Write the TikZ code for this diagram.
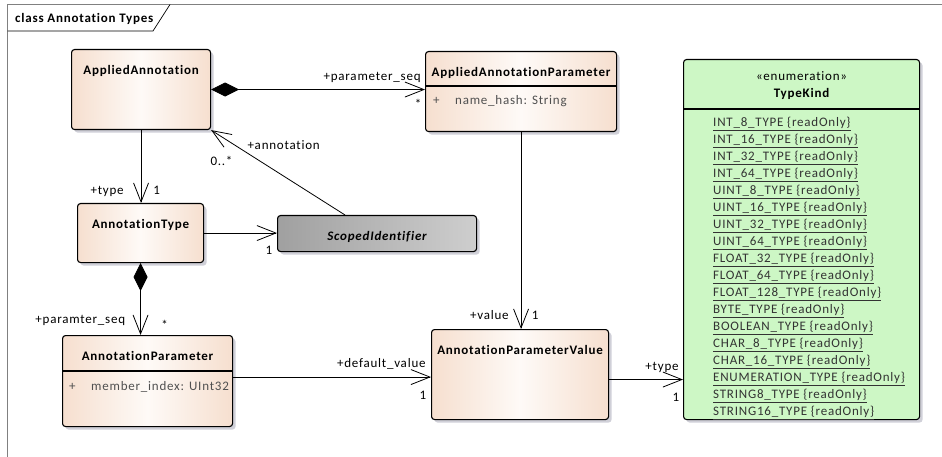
\documentclass[tikz,border=0pt]{standalone}
\usepackage{fontspec}
\setmainfont{Carlito}[LetterSpace=6, Ligatures=NoCommon]
\usetikzlibrary{arrows.meta,shadows,calc}

\definecolor{peach}{RGB}{246,223,207}
\definecolor{peachlight}{RGB}{254,250,247}
\definecolor{enumgreen}{RGB}{205,247,197}
\definecolor{absdark}{RGB}{160,160,160}
\definecolor{abslight}{RGB}{206,206,206}
\definecolor{shadowgray}{RGB}{208,208,216}
\definecolor{framegray}{RGB}{128,128,128}
\definecolor{attrgray}{RGB}{80,80,80}

\newcommand\umlfont{\fontsize{13}{15}\selectfont}

\tikzset{
  umlbox/.style={draw, line width=1.1pt, rounded corners=3pt, anchor=north west, inner sep=0pt,
    drop shadow={shadow xshift=3pt, shadow yshift=-3pt, fill=shadowgray, opacity=1}},
  classbox/.style={umlbox, left color=peach, right color=peach, middle color=peachlight},
  abstractbox/.style={umlbox, left color=absdark, right color=abslight},
  enumbox/.style={umlbox, fill=enumgreen},
  classname/.style={anchor=base, font=\umlfont\bfseries},
  attrib/.style={anchor=base west, text=attrgray},
  enumlit/.style={anchor=base west, text=black!80},
  assoc/.style={line width=0.8pt, -{Straight Barb[length=19pt,width=15pt]}},
  compos/.style={line width=0.8pt, {Diamond[length=28pt,width=14pt]}-{Straight Barb[length=19pt,width=15pt]}},
}

\begin{document}
\begin{tikzpicture}[x=1pt, y=-1pt, font=\umlfont, inner sep=0pt]
\useasboundingbox (0,0) rectangle (942,457);

% frame and its tag
\draw[framegray, line width=1.5pt] (7.5,457) -- (7.5,4.5) -- (942,4.5);
\draw[line width=0.7pt] (7.5,31) -- (153,31) -- (170,4.5);
\node[anchor=base west, font=\umlfont\bfseries] (frametitle) at (15,22.5) {class Annotation Types};

% classes
\node[classbox, minimum width=139pt, minimum height=80pt] (applied) at (71,49) {};
\node[classname] (appliedname) at ([yshift=-25.5pt]applied.north) {AppliedAnnotation};

\node[classbox, minimum width=191pt, minimum height=80pt] (appliedpar) at (425,51) {};
\node[classname] (appliedparname) at ([yshift=-25.5pt]appliedpar.north) {AppliedAnnotationParameter};
\draw[line width=1.1pt] ([yshift=-35pt]appliedpar.north west) -- ([yshift=-35pt]appliedpar.north east);
\node[attrib] (appliedparvis) at ([xshift=8pt, yshift=-54pt]appliedpar.north west) {+};
\node[attrib] (appliedparattr) at ([xshift=30pt, yshift=-54pt]appliedpar.north west) {name\_hash: String};

\node[classbox, minimum width=126pt, minimum height=59pt] (anntype) at (77,203) {};
\node[classname] (anntypename) at ([yshift=-25.5pt]anntype.north) {AnnotationType};

\node[abstractbox, minimum width=199pt, minimum height=36pt] (scoped) at (277,215) {};
\node[classname, font=\umlfont\bfseries\itshape] (scopedname) at ([yshift=-25.5pt]scoped.north) {ScopedIdentifier};

\node[classbox, minimum width=170pt, minimum height=91pt] (annpar) at (62,335) {};
\node[classname] (annparname) at ([yshift=-25.5pt]annpar.north) {AnnotationParameter};
\draw[line width=1.1pt] ([yshift=-36pt]annpar.north west) -- ([yshift=-36pt]annpar.north east);
\node[attrib] (annparvis) at ([xshift=7pt, yshift=-55.5pt]annpar.north west) {+};
\node[attrib] (annparattr) at ([xshift=29pt, yshift=-55.5pt]annpar.north west) {member\_index: UInt32};

\node[classbox, minimum width=177pt, minimum height=90pt] (annval) at (431,329) {};
\node[classname] (annvalname) at ([yshift=-25.5pt]annval.north) {AnnotationParameterValue};

% enumeration
\node[enumbox, minimum width=236pt, minimum height=360pt] (typekind) at (683,59) {};
\node[anchor=base] (typekindstereo) at ([yshift=-21.5pt]typekind.north) {«enumeration»};
\node[classname] (typekindname) at ([yshift=-38.5pt]typekind.north) {TypeKind};
\draw[line width=1.1pt] ([yshift=-50pt]typekind.north west) -- ([yshift=-50pt]typekind.north east);
\foreach \kind [count=\i from 0] in {INT\_8\_TYPE, INT\_16\_TYPE, INT\_32\_TYPE, INT\_64\_TYPE,
    UINT\_8\_TYPE, UINT\_16\_TYPE, UINT\_32\_TYPE, UINT\_64\_TYPE, FLOAT\_32\_TYPE,
    FLOAT\_64\_TYPE, FLOAT\_128\_TYPE, BYTE\_TYPE, BOOLEAN\_TYPE, CHAR\_8\_TYPE,
    CHAR\_16\_TYPE, ENUMERATION\_TYPE, STRING8\_TYPE, STRING16\_TYPE}
  \node[enumlit] (lit\i) at ([xshift=30pt, yshift={-67.5pt-17pt*\i}]typekind.north west)
    {\underline{\kind{} \{readOnly\}}};

% connectors
\draw[compos] (applied.east) -- (applied.east -| appliedpar.west)
  node[pos=1, anchor=base east, xshift=-4pt, yshift=9pt] (seqrole) {+parameter\_seq}
  node[pos=1, anchor=base, xshift=-7pt, yshift=-19pt] (seqmult) {*};

\draw[assoc] (applied.south) -- (applied.south |- anntype.north)
  node[pos=1, anchor=base east, xshift=-17pt, yshift=8.5pt] (typerole) {+type}
  node[pos=1, anchor=base west, xshift=12pt, yshift=8.5pt] (typemult) {1};

\draw[assoc] ($(scoped.north west)!0.34!(scoped.north east)$) -- (applied.south east)
  node[pos=1, anchor=base west, xshift=36pt, yshift=-19pt] (annrole) {+annotation}
  node[pos=1, anchor=base west, xshift=-1pt, yshift=-35pt] (annmult) {0..*};

\draw[assoc] (anntype.east) -- (anntype.east -| scoped.west)
  node[pos=1, anchor=base, xshift=-8pt, yshift=-21pt] (scopedmult) {1};

\draw[compos] (anntype.south) -- (anntype.south |- annpar.north)
  node[pos=1, anchor=base east, xshift=-15pt, yshift=12pt] (paramrole) {+paramter\_seq}
  node[pos=1, anchor=base, xshift=24pt, yshift=6pt] (parammult) {*};

\draw[assoc] (appliedpar.south) -- (appliedpar.south |- annval.north)
  node[pos=1, anchor=base east, xshift=-12pt, yshift=10pt] (valuerole) {+value}
  node[pos=1, anchor=base, xshift=14pt, yshift=10pt] (valuemult) {1};

\coordinate (annparout) at ([yshift=4pt]annpar.east);
\draw[assoc] (annparout) -- (annparout -| annval.west)
  node[pos=1, anchor=base east, xshift=-5pt, yshift=9.5pt] (defrole) {+default\_value}
  node[pos=1, anchor=base, xshift=-8pt, yshift=-22pt] (defmult) {1};

\coordinate (annvalout) at ([yshift=-5pt]annval.east);
\draw[assoc] (annvalout) -- (annvalout -| typekind.west)
  node[pos=1, anchor=base east, xshift=-4pt, yshift=9pt] (kindrole) {+type}
  node[pos=1, anchor=base, xshift=-7pt, yshift=-22pt] (kindmult) {1};
\end{tikzpicture}
\end{document}
